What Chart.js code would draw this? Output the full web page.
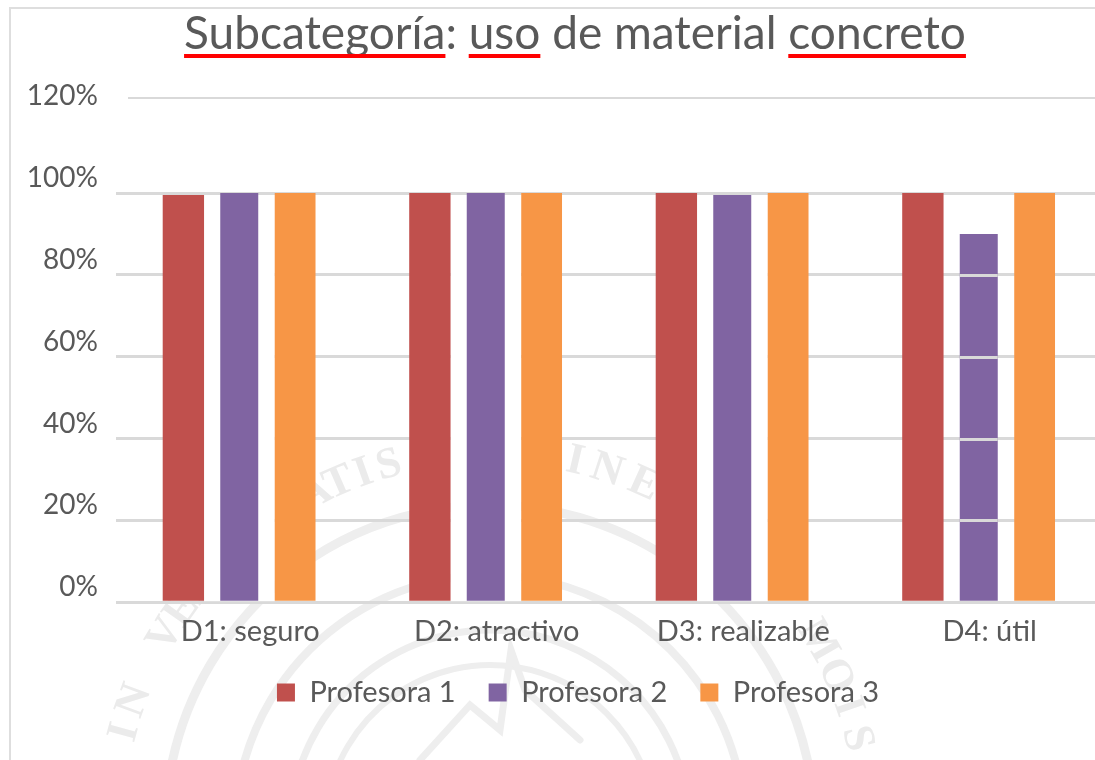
<!DOCTYPE html>
<html><head><meta charset="utf-8">
<script src="https://cdn.jsdelivr.net/npm/chart.js@4"></script>
<style>html,body{margin:0;padding:0;background:#fff;overflow:hidden}#w{width:1095px;height:760px;overflow:hidden;position:relative}canvas{display:block}</style>
</head><body><div id="w"><canvas id="c" width="1102" height="760"></canvas></div>
<script>
const categories = ['D1: seguro','D2: atractivo','D3: realizable','D4: útil'];
const profesora1 = [0.995,1,1,1];
const profesora2 = [1,1,0.995,0.90];
const profesora3 = [1,1,1,1];
const yTicks = [0,0.2,0.4,0.6,0.8,1,1.2];
const yTopLine = 1.233;
const titleParts = ['Subcategoría',': ','uso',' de material ','concreto'];
const underlined = [0,2,4];
const FONT = 'Lato';
const GRID = '#d9d9d9', TEXT = '#595959';
const LEGEND_UP = 8;
const sealLetters = [['I',-75],['N',-70],['V',-59],['E',-54.5],['R',-50],['I',-45.5],['T',-41],['A',-27.5],['T',-23.5],['I',-19.5],['S',-15.5],['I',13],['N',18],['E',24],['M',60],['O',66],['I',71],['S',76]];

const watermark = {
  id:'watermark',
  beforeDraw(chart){
    const c = chart.ctx; c.save();
    c.fillStyle='#fff'; c.fillRect(0,0,chart.width,chart.height);
    c.fillStyle='#dedede'; c.fillRect(9,7,2,753); c.fillRect(9,7,chart.width,2);
    const cx=490, cy=830;
    c.strokeStyle='#eeeeee'; c.lineCap='round';
    [[325,9],[255,8],[200,7],[165,6]].forEach(([r,w])=>{
      c.lineWidth=w; c.beginPath(); c.arc(cx,cy,r,Math.PI*1.05,Math.PI*1.95); c.stroke();
    });
    c.lineWidth=7; c.beginPath();
    c.moveTo(420,760);c.lineTo(470,705);c.lineTo(500,730);c.lineTo(511,650);c.lineTo(525,690);c.lineTo(580,740);c.stroke();
    c.fillStyle='#ebebeb'; c.font='bold 44px "Liberation Serif"'; c.textAlign='center'; c.textBaseline='middle';
    sealLetters.forEach(([ch,a])=>{
      const t=a*Math.PI/180, r=378;
      c.save(); c.translate(cx+r*Math.sin(t),cy-r*Math.cos(t)); c.rotate(t); c.fillText(ch,0,0); c.restore();
    });
    c.restore();
  },
  afterLayout(chart){
    chart.scales.y.left=0;
    const l=chart.legend; l.left+=3; l.right+=3; l.top-=LEGEND_UP; l.bottom-=LEGEND_UP;
  },
  beforeDatasetsDraw(chart){
    const c=chart.ctx, y=chart.scales.y, a=chart.chartArea; c.save(); c.fillStyle='#fff';
    c.fillRect(a.left-2,y.getPixelForValue(yTopLine)-3,14,6);
    const r=chart.getDatasetMeta(0).data, o=chart.getDatasetMeta(2).data;
    for(let i=0;i<3;i++){
      c.fillRect(r[i].x+r[i].width/2,y.getPixelForValue(1)+2,o[i].x-o[i].width/2-r[i].x-r[i].width/2,y.getPixelForValue(0)-y.getPixelForValue(1)-3);
    }
    c.restore();
  },
  afterDatasetsDraw(chart){
    const c=chart.ctx, y=chart.scales.y, p=chart.getDatasetMeta(1).data[3]; c.save(); c.fillStyle=GRID;
    yTicks.filter(v=>v>0&&v<profesora2[3]).forEach(v=>{ c.fillRect(p.x-p.width/2,Math.round(y.getPixelForValue(v))-1,p.width,3); });
    c.restore();
  },
  afterDraw(chart){
    const c=chart.ctx, t=chart.titleBlock; c.save();
    c.font=`${t.options.font.size}px ${FONT}`;
    const full=titleParts.join(''); const x0=(t.left+t.right)/2-c.measureText(full).width/2;
    c.fillStyle='#ff0000';
    underlined.forEach(i=>{
      const pre=titleParts.slice(0,i).join('');
      c.fillRect(x0+c.measureText(pre).width,54,c.measureText(titleParts[i]).width,4);
    });
    c.restore();
  }
};

new Chart(document.getElementById('c'),{
  type:'bar',
  data:{labels:categories,datasets:[
    {label:'Profesora 1',data:profesora1,backgroundColor:'#C0504D',barPercentage:0.74,categoryPercentage:0.68},
    {label:'Profesora 2',data:profesora2,backgroundColor:'#8064A2',barPercentage:0.68,categoryPercentage:0.68},
    {label:'Profesora 3',data:profesora3,backgroundColor:'#F79646',barPercentage:0.73,categoryPercentage:0.68}
  ]},
  plugins:[watermark],
  options:{
    responsive:false,animation:false,
    layout:{padding:{left:48,right:0,top:0,bottom:35}},
    plugins:{
      title:{display:true,text:titleParts.join(''),color:TEXT,font:{family:FONT,size:46,weight:'normal'},padding:{top:7,bottom:35.5}},
      legend:{position:'bottom',labels:{color:TEXT,font:{family:FONT,size:29},boxWidth:18,boxHeight:18,padding:33}},
      tooltip:{enabled:false}
    },
    scales:{
      x:{grid:{display:false},border:{display:false},ticks:{color:TEXT,font:{family:FONT,size:29},labelOffset:11,padding:4,maxRotation:0}},
      y:{min:0,max:yTopLine,
        afterFit(s){s.width=68;},
        afterBuildTicks(s){s.ticks=yTicks.concat([yTopLine]).map(v=>({value:v}));},
        border:{display:false},
        grid:{drawTicks:false,lineWidth:c=>c.tick&&c.tick.value===yTopLine?2:3,color:c=>c.tick&&c.tick.value===1.2?'rgba(0,0,0,0)':GRID},
        ticks:{color:TEXT,font:{family:FONT,size:28},padding:18,labelOffset:-15,autoSkip:false,
          callback:v=>v===yTopLine?'':Math.round(v*100)+'%'}}
    }
  }
});
</script></body></html>
